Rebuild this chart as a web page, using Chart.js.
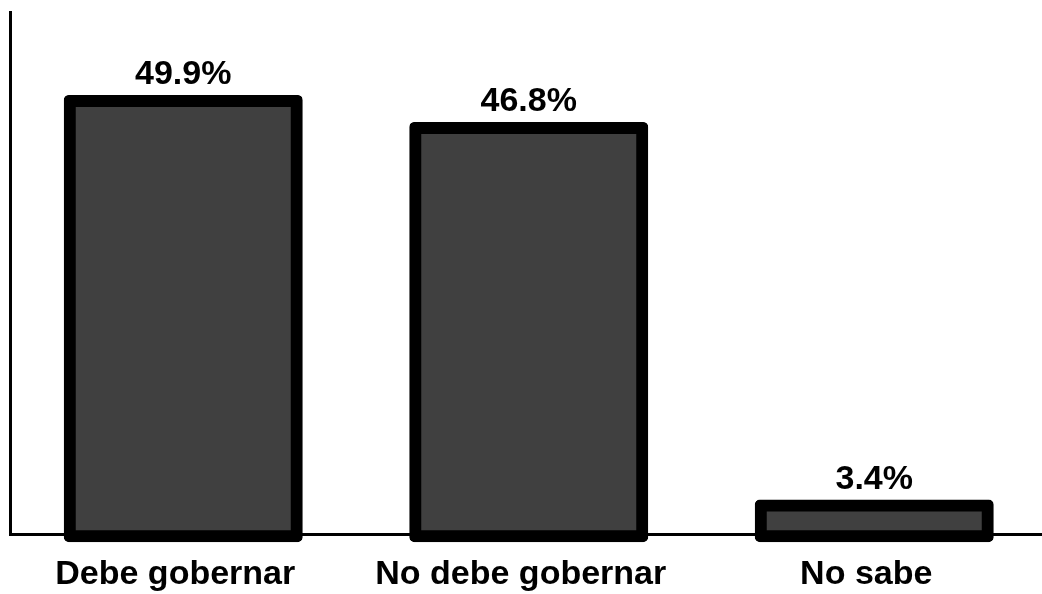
<!DOCTYPE html>
<html>
<head>
<meta charset="utf-8">
<script src="https://cdn.jsdelivr.net/npm/chart.js@4"></script>
<style>
  html, body { margin: 0; padding: 0; background: #fff; overflow: hidden; }
  #wrap { width: 1048px; height: 594px; position: relative; }
</style>
</head>
<body>
<div id="wrap"><canvas id="myChart"></canvas></div>
<script>
const categories = ['Debe gobernar', 'No debe gobernar', 'No sabe'];
const values = [49.9, 46.8, 3.4];
const valueLabels = ['49.9%', '46.8%', '3.4%'];

const FONT = "'Liberation Sans', Arial, sans-serif";

// draw the percentage above each bar
const topLabels = {
  id: 'topLabels',
  afterDatasetsDraw(chart) {
    const ctx = chart.ctx;
    const meta = chart.getDatasetMeta(0);
    ctx.save();
    ctx.font = `bold 34px ${FONT}`;
    ctx.fillStyle = '#000';
    ctx.textAlign = 'center';
    ctx.textBaseline = 'alphabetic';
    meta.data.forEach((bar, i) => {
      ctx.fillText(valueLabels[i], bar.x, bar.y - 16);
    });
    ctx.restore();
  }
};

document.addEventListener('DOMContentLoaded', () => {
  let div = document.querySelector('#myChart');
  const data = {
    labels: categories,
    datasets: [
      {
        data: values,
        base: -0.35,
        clip: false,
        backgroundColor: '#404040',
        borderColor: '#000000',
        borderWidth: 12,
        borderSkipped: false,
        borderRadius: 5,
        inflateAmount: 5,
        barThickness: 229
      }
    ]
  };
  const config = {
    type: 'bar',
    data: data,
    plugins: [topLabels],
    options: {
      responsive: true,
      maintainAspectRatio: false,
      animation: false,
      layout: { padding: { left: 10.5, right: 1, top: 12, bottom: -21 } },
      plugins: {
        legend: { display: false },
        tooltip: { enabled: false }
      },
      scales: {
        y: {
          min: 0,
          max: 60,
          ticks: { display: false },
          grid: { display: false, drawTicks: false },
          border: { display: true, color: '#000', width: 3 }
        },
        x: {
          ticks: {
            color: '#000',
            padding: 20,
            labelOffset: -8,
            font: { family: FONT, size: 34, weight: 'bold' }
          },
          grid: { display: false, drawTicks: false },
          border: { display: true, color: '#000', width: 3 }
        }
      }
    }
  };
  new Chart(div, config);
});
</script>
</body>
</html>
